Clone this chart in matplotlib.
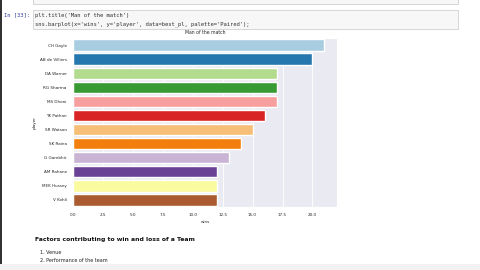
import matplotlib
matplotlib.use("Agg")
import pandas as pd
import seaborn as sns
import matplotlib.pyplot as plt
from matplotlib.patches import Rectangle

players = ['CH Gayle', 'AB de Villiers', 'DA Warner', 'RG Sharma', 'MS Dhoni',
           'YK Pathan', 'SR Watson', 'SK Raina', 'G Gambhir', 'AM Rahane',
           'MEK Hussey', 'V Kohli']
wins = [21, 20, 17, 17, 17, 16, 15, 14, 13, 12, 12, 12]

code_lines = ["plt.title('Man of the match')",
              "sns.barplot(x='wins', y='player', data=best_pl, palette='Paired');"]
heading = 'Factors contributing to win and loss of a Team'
factors = ['1. Venue', '2. Performance of the team']

best_pl = pd.DataFrame({'player': players, 'wins': wins})

sns.set_style('darkgrid')
fig = plt.figure(figsize=(4.8, 2.7), dpi=100)
fig.patch.set_facecolor('white')

# notebook chrome: previous cell bottom, code cell, left border
fig.patches.append(Rectangle((33 / 480, 1 - 4 / 270), 425 / 480, 6 / 270,
                             transform=fig.transFigure, facecolor='#f7f7f7',
                             edgecolor='#d0d0d0', lw=0.6))
fig.patches.append(Rectangle((33 / 480, 1 - 29 / 270), 425 / 480, 19 / 270,
                             transform=fig.transFigure, facecolor='#f7f7f7',
                             edgecolor='#cfcfcf', lw=0.6))
fig.patches.append(Rectangle((0, 0), 2 / 480, 1, transform=fig.transFigure,
                             facecolor='#333333', edgecolor='none'))
fig.patches.append(Rectangle((0, 0), 1, 6 / 270, transform=fig.transFigure,
                             facecolor='#f2f2f2', edgecolor='none'))
fig.text(4 / 480, 1 - 15 / 270, 'In [33]:', fontsize=4.0, family='DejaVu Sans Mono',
         color='#303f9f', va='center')
for i, line in enumerate(code_lines):
    fig.text(35 / 480, 1 - (15 + i * 9) / 270, line, fontsize=3.95,
             family='DejaVu Sans Mono', color='#333333', va='center')

ax = fig.add_axes([73 / 480, 1 - 207 / 270, 264 / 480, 169 / 270])
sns.barplot(x='wins', y='player', data=best_pl, hue='player', palette='Paired',
            saturation=0.9, legend=False, ax=ax)
ax.set_title('Man of the match', fontsize=3.3, pad=3)
ax.set_xlabel('wins', fontsize=3)
ax.set_ylabel('player', fontsize=3)
ax.tick_params(labelsize=3, pad=1)
ax.xaxis.labelpad = 2
ax.yaxis.labelpad = 2
ax.set_xticks([0, 2.5, 5, 7.5, 10, 12.5, 15, 17.5, 20])
for line in ax.get_xgridlines() + ax.get_ygridlines():
    line.set_linewidth(0.6)

fig.text(35 / 480, 1 - 240 / 270, heading, fontsize=4.4, fontweight='bold',
         color='#111111', va='center')
for i, item in enumerate(factors):
    fig.text(40 / 480, 1 - (252 + i * 8) / 270, item, fontsize=3.5,
             color='#222222', va='center')

fig.savefig('out.png', dpi=100)
